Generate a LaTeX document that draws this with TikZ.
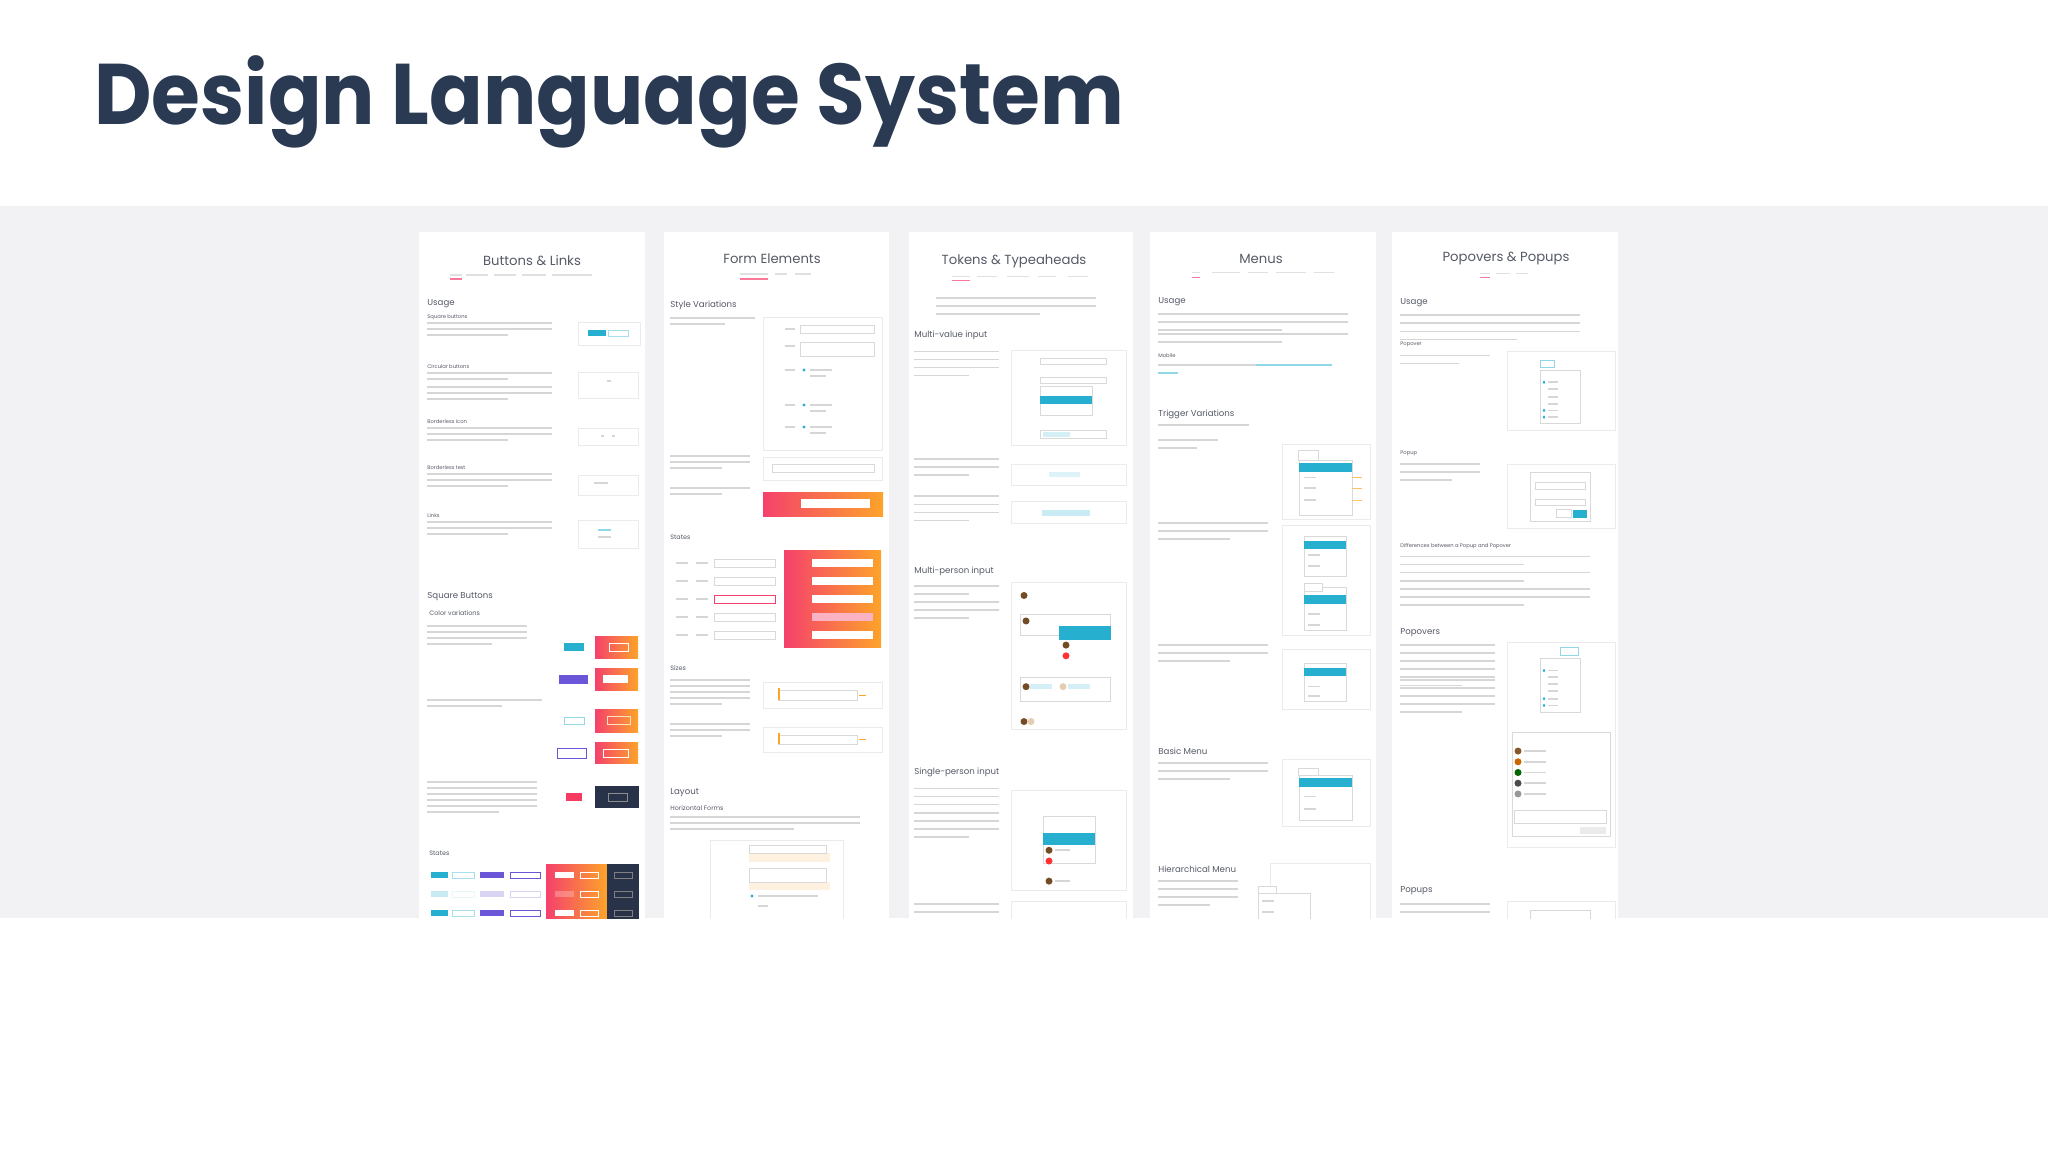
\documentclass[tikz,border=0pt]{standalone}
\usepackage{fontspec}
\setmainfont{Poppins}
\definecolor{navy}{HTML}{2A3A53}
\definecolor{band}{HTML}{F2F2F5}
\definecolor{cyanb}{HTML}{26AFCF}
\definecolor{pinkg}{HTML}{F5416C}
\definecolor{orang}{HTML}{FDA32A}
\definecolor{darkb}{HTML}{28334A}
\definecolor{purp}{HTML}{6A56D6}
\definecolor{headc}{HTML}{555A66}
\tikzset{
  panel/.style={fill=white,draw=none},
  ptitle/.style={font=\fontsize{6.6}{7}\selectfont,text=headc,inner sep=0},
  sect/.style={font=\fontsize{4.3}{5}\selectfont,text=headc,anchor=west,inner sep=0},
  subh/.style={font=\fontsize{2.6}{3}\selectfont,text=headc,anchor=west,inner sep=0},
  txt/.style={draw=black!16,line width=0.8pt},
  tab/.style={draw=black!12,line width=0.8pt},
  uline/.style={draw=pinkg!70,line width=0.6pt},
  demo/.style={draw=black!8,line width=0.4pt,fill=white},
  field/.style={draw=black!15,line width=0.4pt,fill=white},
  grad/.style={left color=pinkg,right color=orang,draw=none},
  avat/.style={circle,fill=brown!60!black,inner sep=0,minimum size=3.5pt},
}
\newcommand\para[4]{\foreach \i in {1,...,#4}{\pgfmathsetmacro\ww{\i==#4 ? 0.65*#3 : #3}\draw[txt] (#1,{#2+(\i-1)*6}) -- ++(\ww,0);}}
\newcommand\tabs[3]{\draw[tab] (#1,#2) -- ++(#3,0);}
\begin{document}
\begin{tikzpicture}[x=0.5pt,y=-0.5pt]
\useasboundingbox (0,0) rectangle (2048,1152);
\fill[white] (0,0) rectangle (2048,1152);
\fill[band] (0,206) rectangle (2048,918);
\node[anchor=base west,inner sep=0,text=navy,font=\fontsize{43}{45}\selectfont\bfseries] (title) at (94,124) {\scalebox{0.92}[1]{Design Language System}};
\begin{scope}
\clip (0,206) rectangle (2048,918);
% ---------------- panel 1
\fill[panel] (419,232) rectangle (645,930);
\node[ptitle] (t1) at (532,261) {Buttons \& Links};
\foreach \a/\b in {450/12,466/22,494/22,522/24,552/40}{\tabs{\a}{275}{\b}}
\draw[uline] (450,279) -- ++(12,0);
\node[sect] (u1) at (427,304) {Usage};
\node[subh] (s11) at (427,317) {Square buttons};
\para{427}{323}{125}{3}
\node[subh] (s12) at (427,367) {Circular buttons};
\para{427}{373}{125}{2}\para{427}{387}{125}{3}
\node[subh] (s13) at (427,422) {Borderless icon};
\para{427}{428}{125}{3}
\node[subh] (s14) at (427,468) {Borderless text};
\para{427}{474}{125}{3}
\node[subh] (s15) at (427,516) {Links};
\para{427}{522}{125}{3}
\draw[demo] (578,322) rectangle (640,345);\fill[cyanb] (588,330) rectangle (606,336);\draw[field,draw=cyanb!40] (608,330) rectangle (628,336);
\draw[demo] (578,372) rectangle (638,398);\draw[txt] (607,381) -- ++(4,0);
\draw[demo] (578,428) rectangle (638,445);\draw[txt] (601,436) -- ++(3,0) (612,436) -- ++(3,0);
\draw[demo] (578,475) rectangle (638,495);\draw[txt] (594,483) -- ++(14,0);
\draw[demo] (578,520) rectangle (638,548);\draw[draw=cyanb!50,line width=0.8pt] (598,530) -- ++(13,0);\draw[txt] (598,537) -- ++(13,0);
\node[sect] (sq) at (427,597) {Square Buttons};
\node[subh,font=\fontsize{3.2}{4}\selectfont] (cv) at (429,613) {Color variations};
\para{427}{626}{100}{4}\para{427}{700}{115}{2}\para{427}{782}{110}{6}
\fill[grad] (595,636) rectangle (638,658);\draw[white,line width=0.5pt] (609,643) rectangle (628,651);
\fill[cyanb] (564,643) rectangle (584,651);
\fill[grad] (595,668) rectangle (638,690);\fill[white] (603,675) rectangle (628,683);
\fill[purp] (559,675) rectangle (588,684);
\fill[grad] (595,709) rectangle (638,732);\draw[white!70!orang,line width=0.4pt] (607,716) rectangle (630,724);
\draw[cyanb!50,line width=0.4pt] (564,717) rectangle (584,724);
\fill[grad] (595,742) rectangle (638,763);\draw[white,line width=0.5pt] (603,749) rectangle (628,757);
\draw[purp,line width=0.4pt] (557,748) rectangle (586,758);
\fill[darkb] (595,786) rectangle (639,808);\draw[black!45,line width=0.4pt] (608,793) rectangle (627,801);
\fill[pinkg!90!red] (566,793) rectangle (582,801);
\node[subh,font=\fontsize{3.2}{4}\selectfont] (st1) at (429,853) {States};
\fill[grad] (546,864) rectangle (607,930);\fill[darkb] (607,864) rectangle (639,930);
\foreach \yy/\op in {875/1,894/0.25,913/1}{
  \fill[cyanb,opacity=\op] (431,\yy-3) rectangle (448,\yy+3);
  \draw[cyanb!40,opacity=\op,line width=0.4pt] (452,\yy-3) rectangle (474,\yy+3);
  \fill[purp,opacity=\op] (480,\yy-3) rectangle (504,\yy+3);
  \draw[purp,opacity=\op,line width=0.4pt] (510,\yy-3) rectangle (540,\yy+3);
  \fill[white,opacity=\op] (555,\yy-3) rectangle (574,\yy+3);
  \draw[white,line width=0.4pt] (580,\yy-3) rectangle (598,\yy+3);
  \draw[black!50,line width=0.4pt] (614,\yy-3) rectangle (632,\yy+3);}
% ---------------- panel 2
\fill[panel] (664,232) rectangle (889,930);
\node[ptitle] (t2) at (772,259) {Form Elements};
\foreach \a/\b in {740/28,775/12,795/16}{\tabs{\a}{274}{\b}}
\draw[uline] (740,279) -- ++(28,0);
\node[sect] (sv) at (670,305) {Style Variations};
\para{670}{318}{85}{2}
\draw[demo] (763,317) rectangle (882,450);
\draw[field] (800,325) rectangle (874,333);\draw[field] (800,342) rectangle (874,356);
\foreach \yy in {370,405,427}{\fill[cyanb] (804,\yy) circle (1.6);\draw[txt] (810,\yy) -- ++(22,0);\draw[txt] (785,\yy) -- ++(10,0);}
\foreach \yy in {376,411,433}{\draw[txt] (810,\yy) -- ++(16,0);}
\draw[txt] (785,329) -- ++(10,0) (785,346) -- ++(10,0);
\para{670}{456}{80}{3}
\draw[demo] (763,457) rectangle (882,480);\draw[field] (772,464) rectangle (874,472);
\para{670}{488}{80}{2}
\fill[grad] (763,492) rectangle (883,516);\fill[white] (801,499) rectangle (870,508);
\node[subh,font=\fontsize{3.2}{4}\selectfont] (st2) at (670,537) {States};
\foreach \yy in {563,581,599,617,635}{\draw[txt] (676,\yy) -- ++(12,0) (696,\yy) -- ++(12,0);\draw[field] (714,\yy-4) rectangle (775,\yy+4);}
\fill[grad] (784,550) rectangle (881,647);
\foreach \yy in {563,581,599,635}{\fill[white] (812,\yy-4) rectangle (873,\yy+4);}
\fill[white!60!pinkg] (812,613) rectangle (873,621);
\draw[pinkg,line width=0.4pt] (714,595) rectangle (775,603);
\node[subh,font=\fontsize{3.2}{4}\selectfont] (sz) at (670,668) {Sizes};
\para{670}{680}{80}{5}
\draw[demo] (763,682) rectangle (882,708);\draw[field] (778,690) rectangle (857,700);\fill[orang] (778,688) rectangle (780,700);\draw[orang,line width=0.5pt] (859,695) -- (866,695);
\para{670}{724}{80}{3}
\draw[demo] (763,727) rectangle (882,752);\draw[field] (778,735) rectangle (857,744);\fill[orang] (778,733) rectangle (780,744);\draw[orang,line width=0.5pt] (859,739) -- (866,739);
\node[sect] (lay) at (670,793) {Layout};
\node[subh,font=\fontsize{3.2}{4}\selectfont] (hf) at (670,808) {Horizontal Forms};
\para{670}{817}{190}{3}
\draw[demo] (710,840) rectangle (843,930);
\fill[orang!15] (749,853) rectangle (830,862);\draw[field] (749,845) rectangle (826,853);
\fill[orang!15] (749,882) rectangle (830,890);\draw[field] (749,868) rectangle (826,882);
\fill[cyanb] (752,896) circle (1.6);\draw[txt] (758,896) -- ++(60,0) (758,906) -- ++(10,0);
% panels 3-5 backgrounds
\fill[panel] (909,232) rectangle (1133,930);
\fill[panel] (1150,232) rectangle (1376,930);
\fill[panel] (1392,232) rectangle (1618,930);
\begin{scope}[shift={(0,220)},yscale=1.341,shift={(0,-220)}]
% ---------------- panel 3
\node[ptitle] (t3) at (1014,251) {Tokens \& Typeaheads};
\foreach \a/\b in {952/18,977/20,1007/22,1038/18,1068/20}{\tabs{\a}{262}{\b}}
\draw[uline] (952,265) -- ++(18,0);
\para{936}{278}{160}{3}
\node[sect] (mv) at (914,306) {Multi-value input};
\para{914}{318}{85}{4}
\draw[demo] (1011,317) rectangle (1126,388);
\draw[field] (1040,323) rectangle (1106,328);\draw[field] (1040,337) rectangle (1106,342);
\draw[field] (1040,344) rectangle (1092,366);\fill[cyanb] (1040,351) rectangle (1092,357);
\draw[field] (1040,377) rectangle (1106,383);\fill[cyanb!20] (1043,378) rectangle (1070,382);
\para{914}{398}{85}{3}
\draw[demo] (1011,402) rectangle (1126,418);\fill[cyanb!15] (1049,408) rectangle (1080,412);
\para{914}{426}{85}{4}
\draw[demo] (1011,430) rectangle (1126,446);\fill[cyanb!25] (1042,436) rectangle (1090,441);
\node[sect] (mp) at (914,482) {Multi-person input};
\para{914}{493}{85}{2}\para{914}{505}{85}{3}
\draw[demo] (1011,490) rectangle (1126,600);
\draw[field] (1020,514) rectangle (1110,530);\fill[cyanb] (1059,523) rectangle (1111,533);
\node[avat] (a1) at (1024,500) {};\node[avat] (a2) at (1026,519) {};\node[avat] (a3) at (1066,537) {};\node[avat,fill=red!80] (a4) at (1066,545) {};
\draw[field] (1020,561) rectangle (1110,579);\fill[cyanb!20] (1030,566) rectangle (1052,570);\fill[cyanb!20] (1068,566) rectangle (1090,570);
\node[avat] (a5) at (1026,568) {};\node[avat,fill=brown!40] (a6) at (1063,568) {};
\node[avat] (a7) at (1024,594) {};\node[avat,fill=brown!40] (a8) at (1031,594) {};
\node[sect] (sp) at (914,632) {Single-person input};
\para{914}{644}{85}{7}
\draw[demo] (1011,645) rectangle (1126,720);
\draw[field] (1043,665) rectangle (1095,700);\fill[cyanb] (1043,677) rectangle (1095,686);
\node[avat] (a9) at (1049,690) {};\node[avat,fill=red!80] (a10) at (1049,698) {};\node[avat] (a11) at (1049,713) {};
\draw[txt] (1055,713) -- ++(15,0) (1055,690) -- ++(15,0);
\para{914}{730}{85}{3}
\draw[demo] (1011,728) rectangle (1126,760);
% ---------------- panel 4
\node[ptitle] (t4) at (1261,249) {Menus};
\foreach \a/\b in {1192/8,1212/28,1248/20,1276/30,1314/20}{\tabs{\a}{259}{\b}}
\draw[uline] (1192,263) -- ++(8,0);
\node[sect] (u4) at (1158,281) {Usage};
\para{1158}{290}{190}{3}\para{1158}{305}{190}{2}
\node[subh] (mob) at (1158,321) {Mobile};
\draw[txt] (1158,328) -- ++(98,0);\draw[draw=cyanb!50,line width=0.8pt] (1256,328) -- ++(76,0);\draw[draw=cyanb!50,line width=0.8pt] (1158,334) -- ++(20,0);
\node[sect] (tv) at (1158,365) {Trigger Variations};
\para{1158}{373}{140}{1}
\para{1158}{384}{60}{2}
\draw[demo] (1282,387) rectangle (1370,443);
\draw[field] (1298,392) rectangle (1318,399);\draw[field] (1299,399) rectangle (1352,440);\fill[cyanb] (1299,401) rectangle (1352,408);
\foreach \yy in {412,420,429}{\draw[txt] (1304,\yy) -- ++(12,0);\draw[orang!70,line width=0.3pt] (1352,\yy) -- (1362,\yy);}
\para{1158}{446}{110}{3}
\draw[demo] (1282,448) rectangle (1370,530);
\draw[field] (1304,456) rectangle (1346,486);\fill[cyanb] (1304,459) rectangle (1346,465);
\draw[field] (1304,494) rectangle (1346,526);\fill[cyanb] (1304,500) rectangle (1346,506);\draw[field] (1304,491) rectangle (1322,497);
\foreach \yy in {470,478,514,522}{\draw[txt] (1308,\yy) -- ++(12,0);}
\para{1158}{537}{110}{3}
\draw[demo] (1282,540) rectangle (1370,585);
\draw[field] (1304,551) rectangle (1346,579);\fill[cyanb] (1304,554) rectangle (1346,560);
\foreach \yy in {568,575}{\draw[txt] (1308,\yy) -- ++(12,0);}
\node[sect] (bm) at (1158,616) {Basic Menu};
\para{1158}{625}{110}{3}
\draw[demo] (1282,622) rectangle (1370,672);
\draw[field] (1298,629) rectangle (1318,634);\draw[field] (1299,634) rectangle (1352,668);\fill[cyanb] (1299,636) rectangle (1352,643);
\foreach \yy in {650,659}{\draw[txt] (1304,\yy) -- ++(12,0);}
\node[sect] (hm) at (1158,704) {Hierarchical Menu};
\para{1158}{713}{80}{4}
\draw[demo] (1270,700) rectangle (1370,930);
\draw[field] (1258,717) rectangle (1276,722);\draw[field] (1258,722) rectangle (1310,930);
\foreach \yy in {728,736}{\draw[txt] (1262,\yy) -- ++(12,0);}
% ---------------- panel 5
\node[ptitle] (t5) at (1506,249) {Popovers \& Popups};
\foreach \a/\b in {1480/10,1496/14,1516/12}{\tabs{\a}{260}{\b}}
\draw[uline] (1480,263) -- ++(10,0);
\node[sect] (u5) at (1400,282) {Usage};
\para{1400}{291}{180}{4}
\node[subh] (pov) at (1400,313) {Popover};
\para{1400}{321}{90}{2}
\draw[demo] (1507,318) rectangle (1615,377);
\draw[field,draw=cyanb!50] (1540,325) rectangle (1554,330);
\draw[field] (1540,332) rectangle (1580,372);
\foreach \yy/\c in {341/1,346/0,352/0,357/0,362/1,367/1}{\ifnum\c=1 \fill[cyanb] (1544,\yy) circle (1.3);\fi\draw[txt] (1548,\yy) -- ++(10,0);}
\node[subh] (pup) at (1400,394) {Popup};
\para{1400}{402}{80}{3}
\draw[demo] (1507,402) rectangle (1615,450);
\draw[field] (1530,408) rectangle (1590,445);\draw[field] (1535,416) rectangle (1585,421);\draw[field] (1535,428) rectangle (1585,433);
\fill[cyanb] (1573,436) rectangle (1587,442);\draw[field] (1556,436) rectangle (1571,442);
\node[subh] (diff) at (1400,463) {Differences between a Popup and Popover};
\para{1400}{471}{190}{2}\para{1400}{483}{190}{2}\para{1400}{495}{190}{3}
\node[sect] (povs) at (1400,528) {Popovers};
\para{1400}{537}{95}{6}\para{1400}{563}{95}{5}
\draw[demo] (1507,535) rectangle (1615,688);
\draw[field,draw=cyanb!50] (1560,539) rectangle (1578,545);
\draw[field] (1540,547) rectangle (1580,587);
\foreach \yy/\c in {556/1,561/0,566/0,571/0,577/1,582/1}{\ifnum\c=1 \fill[cyanb] (1544,\yy) circle (1.3);\fi\draw[txt] (1548,\yy) -- ++(10,0);}
\draw[field] (1512,602) rectangle (1610,680);
\foreach \yy/\cc in {616/brown!70!black,624/orange!80!black,632/green!40!black,640/black!70,648/black!40}{\node[avat,fill=\cc] at (1518,\yy) {};\draw[txt] (1524,\yy) -- ++(22,0);}
\draw[field] (1514,660) rectangle (1606,670);\fill[black!8] (1580,673) rectangle (1606,678);
\node[sect] (pups) at (1400,720) {Popups};
\para{1400}{730}{90}{3}
\draw[demo] (1507,728) rectangle (1615,780);\draw[field] (1530,735) rectangle (1590,760);
\end{scope}
\end{scope}
\end{tikzpicture}
\end{document}
